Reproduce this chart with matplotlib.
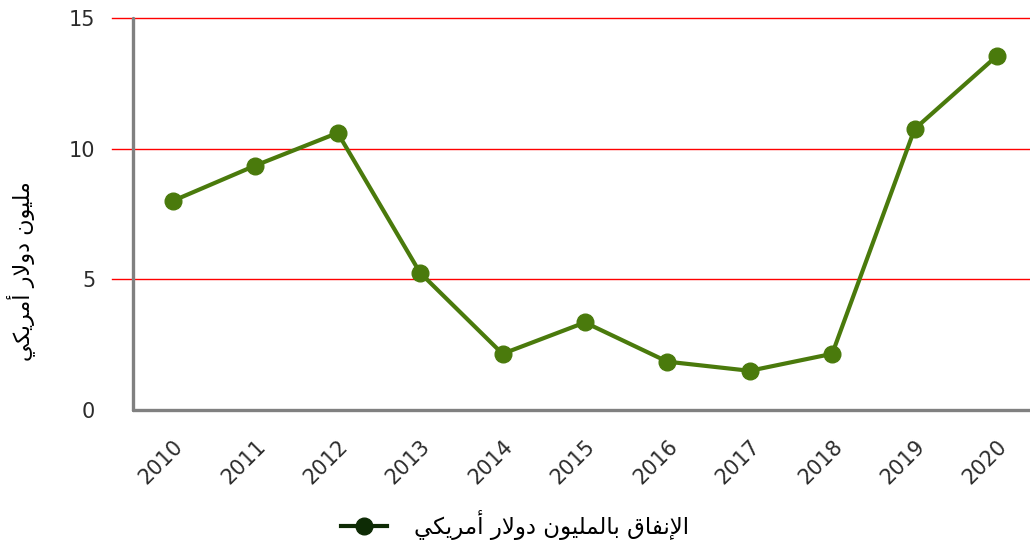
import matplotlib
matplotlib.use('Agg')
import matplotlib.pyplot as plt
from matplotlib.lines import Line2D
import matplotlib.transforms as mtransforms

years = ['2010', '2011', '2012', '2013', '2014', '2015',
         '2016', '2017', '2018', '2019', '2020']
spending = [8.0, 9.35, 10.6, 5.25, 2.15, 3.35, 1.85, 1.5, 2.15, 10.75, 13.55]
y_ticks = [0, 5, 10, 15]
y_label = 'مليون دولار أمريكي'
series_label = 'الإنفاق بالمليون دولار أمريكي'

# matplotlib does not shape Arabic, so map letters to presentation forms
# (isolated, final, initial, medial) and reverse for display
FORMS = {
    'ا': ('\uFE8D', '\uFE8E', None, None),
    'أ': ('\uFE83', '\uFE84', None, None),
    'إ': ('\uFE87', '\uFE88', None, None),
    'د': ('\uFEA9', '\uFEAA', None, None),
    'ر': ('\uFEAD', '\uFEAE', None, None),
    'و': ('\uFEED', '\uFEEE', None, None),
    'ب': ('\uFE8F', '\uFE90', '\uFE91', '\uFE92'),
    'ف': ('\uFED1', '\uFED2', '\uFED3', '\uFED4'),
    'ق': ('\uFED5', '\uFED6', '\uFED7', '\uFED8'),
    'ك': ('\uFED9', '\uFEDA', '\uFEDB', '\uFEDC'),
    'ل': ('\uFEDD', '\uFEDE', '\uFEDF', '\uFEE0'),
    'م': ('\uFEE1', '\uFEE2', '\uFEE3', '\uFEE4'),
    'ن': ('\uFEE5', '\uFEE6', '\uFEE7', '\uFEE8'),
    'ي': ('\uFEF1', '\uFEF2', '\uFEF3', '\uFEF4'),
    'لا': ('\uFEFB', '\uFEFC', None, None),
    'لأ': ('\uFEF7', '\uFEF8', None, None),
    'لإ': ('\uFEF9', '\uFEFA', None, None),
}


def shape_ar(text):
    toks = []
    i = 0
    while i < len(text):
        if text[i] == 'ل' and text[i:i + 2] in FORMS:
            toks.append(text[i:i + 2])
            i += 2
        else:
            toks.append(text[i])
            i += 1
    out = []
    for k, t in enumerate(toks):
        if t not in FORMS:
            out.append(t)
            continue
        prev = k > 0 and toks[k - 1] in FORMS and FORMS[toks[k - 1]][2] is not None
        nxt = FORMS[t][2] is not None and k + 1 < len(toks) and toks[k + 1] in FORMS
        if prev and nxt:
            out.append(FORMS[t][3])
        elif prev:
            out.append(FORMS[t][1])
        elif nxt:
            out.append(FORMS[t][2])
        else:
            out.append(FORMS[t][0])
    return ''.join(reversed(out))


plt.rcParams['font.family'] = ['DejaVu Sans']

line_color = '#4a7a0c'
spine_color = '#808080'
text_color = '#2b2b2b'

fig = plt.figure(figsize=(10.3, 5.42), dpi=100)
ax = fig.add_axes([0.129, 0.2435, 0.871, 0.7235])

x = list(range(len(years)))
ax.plot(x, spending, color=line_color, lw=3, marker='o', ms=12,
        solid_joinstyle='round', zorder=3)

ax.set_ylim(0, 15)
ax.set_xlim(-0.485, 10.4)

# red gridlines that stick out a little left of the axis
ytr = ax.get_yaxis_transform()
for yv in y_ticks[1:]:
    ax.plot([-0.023, 1.0], [yv, yv], color='red', lw=1, transform=ytr,
            clip_on=False, zorder=1)

for s in ['top', 'right']:
    ax.spines[s].set_visible(False)
for s in ['left', 'bottom']:
    ax.spines[s].set_color(spine_color)
    ax.spines[s].set_linewidth(2.4)
    ax.spines[s].set_capstyle('round')

ax.set_yticks(y_ticks)
ax.set_yticklabels([str(v) for v in y_ticks])
ax.tick_params(axis='y', length=0, pad=27, labelsize=15, labelcolor=text_color)

ax.set_xticks(x)
ax.set_xticklabels(years, rotation=45, ha='right', va='center',
                   rotation_mode='anchor')
ax.tick_params(axis='x', length=0, pad=24, labelsize=15, labelcolor=text_color)
offset = mtransforms.ScaledTranslation(7 / 100, 0, fig.dpi_scale_trans)
for lbl in ax.get_xticklabels():
    lbl.set_transform(lbl.get_transform() + offset)

fig.text(0.02, 0.5, shape_ar(y_label), rotation=90, ha='center', va='center',
         fontsize=16, color='black')

handle = Line2D([], [], color='#0e2b05', lw=3, marker='o', ms=12)
fig.legend([handle], [shape_ar(series_label)], loc='center',
           bbox_to_anchor=(0.5, 0.031), frameon=False, fontsize=16.5,
           handlelength=2.0, handletextpad=1.2)

fig.savefig('out.png', dpi=100)
